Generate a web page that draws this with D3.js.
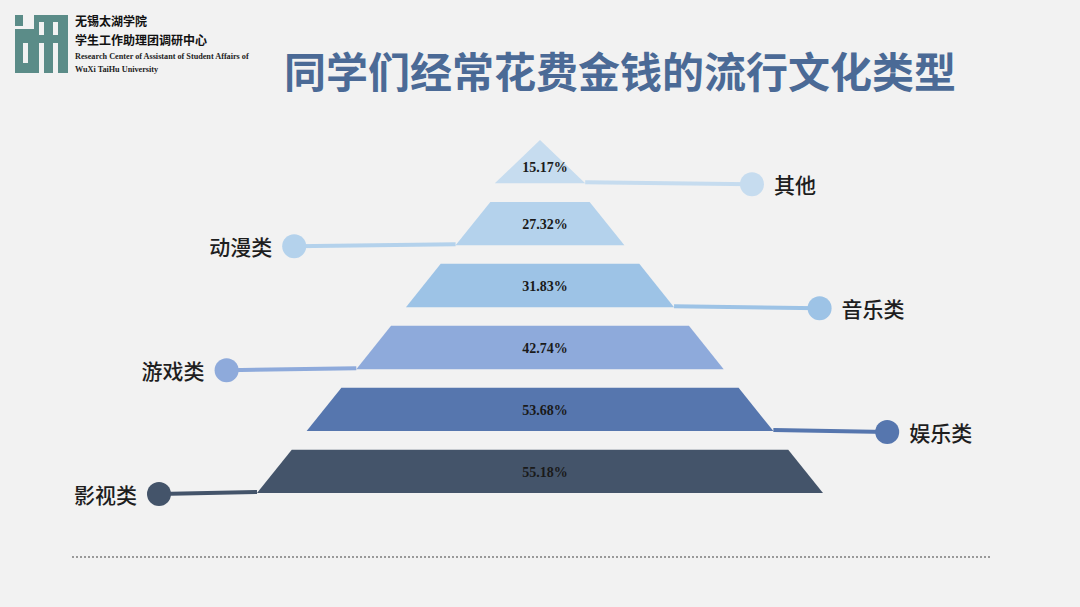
<!DOCTYPE html>
<html><head><meta charset="utf-8">
<script src="https://cdn.jsdelivr.net/npm/d3@7/dist/d3.min.js"></script>
<style>
html,body{margin:0;padding:0;background:#f2f2f2;}
svg{display:block;}
</style></head>
<body>
<svg id="chart" width="1080" height="607"></svg>
<script>
// ---- data ----
const categories = ["其他", "动漫类", "音乐类", "游戏类", "娱乐类", "影视类"];
const values = [15.17, 27.32, 31.83, 42.74, 53.68, 55.18];
const colors = ["#c6dcef", "#b4d2ec", "#9dc3e6", "#8eaadb", "#5676ae", "#44546a"];
const title = "同学们经常花费金钱的流行文化类型";
const orgLines = ["无锡太湖学院", "学生工作助理团调研中心"];
const orgEnLines = ["Research Center of Assistant of Student Affairs of", "WuXi TaiHu University"];

const svg = d3.select("#chart");
const W = 1080, H = 607;
svg.append("rect").attr("width", W).attr("height", H).attr("fill", "#f2f2f2");

// ---- logo ----
const logo = svg.append("g");
const green = "#5b8c88", bg = "#f2f2f2";
logo.append("rect").attr("x", 15).attr("y", 15).attr("width", 8).attr("height", 11).attr("fill", green);
logo.append("rect").attr("x", 15).attr("y", 29).attr("width", 53).attr("height", 44).attr("fill", green);
logo.append("rect").attr("x", 34).attr("y", 15).attr("width", 34).attr("height", 16).attr("fill", green);
[[23, 43, 5, 20], [39, 22, 5, 13], [53, 22, 5, 13], [39, 43, 5, 30], [53, 43, 5, 30]].forEach(r => {
  logo.append("rect").attr("x", r[0]).attr("y", r[1]).attr("width", r[2]).attr("height", r[3]).attr("fill", bg);
});
svg.selectAll("text.org").data(orgLines).join("text")
  .attr("class", "org")
  .attr("x", 75).attr("y", (d, i) => 26 + i * 19)
  .attr("font-family", "Noto Sans CJK SC").attr("font-weight", 700)
  .attr("font-size", 12).attr("fill", "#111").text(d => d);
svg.selectAll("text.orgen").data(orgEnLines).join("text")
  .attr("class", "orgen")
  .attr("x", 75).attr("y", (d, i) => 59 + i * 13)
  .attr("font-family", "Liberation Serif").attr("font-weight", 700)
  .attr("font-size", 8.2).attr("fill", "#222").text(d => d);

// ---- title ----
svg.append("text").attr("x", 620).attr("y", 88).attr("text-anchor", "middle")
  .attr("font-family", "Noto Sans CJK SC").attr("font-weight", 700)
  .attr("font-size", 42).attr("fill", "#4b6a96").text(title);

// ---- pyramid ----
const cx = 540;
const y = d3.scaleBand().domain(categories).range([140, 493]).paddingInner(0.3).paddingOuter(0);
const half = d3.scaleLinear().domain([140, 493]).range([0, 283]);
const connOff = d3.scaleLinear().domain([0, categories.length - 1]).range([212, 381]);

const data = categories.map((c, i) => ({ cat: c, val: values[i], color: colors[i], i }));

const tiers = svg.append("g");
tiers.selectAll("path.tier").data(data).join("path")
  .attr("class", "tier")
  .attr("fill", d => d.color)
  .attr("d", d => {
    const t = y(d.cat), b = y(d.cat) + y.bandwidth();
    const ht = half(t), hb = d.i === 0 ? half(b) * 1.3 : half(b);
    return `M${cx - ht},${t}L${cx + ht},${t}L${cx + hb},${b}L${cx - hb},${b}Z`;
  });

// connectors
const conn = svg.append("g");
data.forEach(d => {
  const b = y(d.cat) + y.bandwidth();
  const side = d.i % 2 === 0 ? 1 : -1;
  const x0 = cx + side * (d.i === 0 ? half(b) * 1.3 : half(b));
  const x1 = cx + side * connOff(d.i);
  conn.append("line").attr("x1", x0).attr("y1", b - 1).attr("x2", x1).attr("y2", b + 1)
    .attr("stroke", d.color).attr("stroke-width", 4);
  conn.append("circle").attr("cx", x1).attr("cy", b + 1).attr("r", 12).attr("fill", d.color);
  conn.append("text").attr("x", x1 + side * 22).attr("y", b + 1)
    .attr("text-anchor", side > 0 ? "start" : "end").attr("dominant-baseline", "central")
    .attr("font-family", "Noto Sans CJK SC").attr("font-weight", 500)
    .attr("font-size", 21).attr("fill", "#1e1e1e").text(d.cat);
});

// value labels
svg.selectAll("text.val").data(data).join("text")
  .attr("class", "val")
  .attr("x", cx + 5).attr("y", d => y(d.cat) + y.bandwidth() / 2 + (d.i === 0 ? 6 : 1))
  .attr("text-anchor", "middle").attr("dominant-baseline", "central")
  .attr("font-family", "Liberation Serif").attr("font-weight", 700)
  .attr("font-size", 14).attr("fill", "#1a1a1a")
  .text(d => d.val.toFixed(2) + "%");

// ---- dotted footer line ----
svg.append("line").attr("x1", 72).attr("x2", 990).attr("y1", 557).attr("y2", 557)
  .attr("stroke", "#9a9a9a").attr("stroke-width", 2).attr("stroke-dasharray", "2,2");
</script>
</body></html>
